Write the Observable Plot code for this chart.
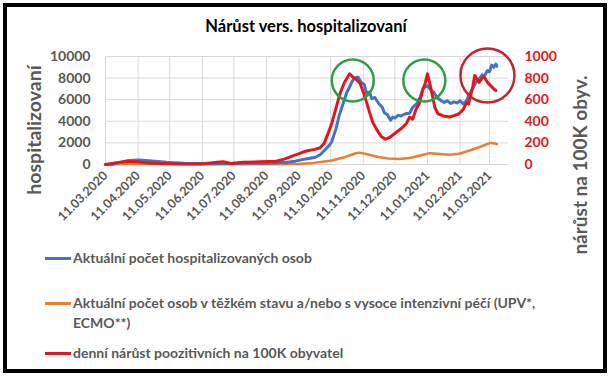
<!DOCTYPE html>
<html><head><meta charset="utf-8">
<script src="https://cdn.jsdelivr.net/npm/d3@7"></script>
<script src="https://cdn.jsdelivr.net/npm/@observablehq/plot@0.6"></script>
<style>
body{margin:0;background:#fff;}
#wrap{position:relative;width:612px;height:377px;overflow:hidden;font-family:Lato,"Open Sans",sans-serif;background:#fff;}
#frame{position:absolute;left:3px;top:3px;width:604px;height:370px;border:4px solid #000;box-sizing:border-box;pointer-events:none;}
#title{position:absolute;left:0;width:612px;top:16px;text-align:center;font-weight:bold;font-size:16.5px;color:#000;}
#chart{position:absolute;left:0;top:0;}
.ytitle{position:absolute;font-weight:bold;color:#595959;white-space:nowrap;transform:translate(-50%,-50%) rotate(-90deg);}
.leg{position:absolute;left:45px;font-weight:bold;font-size:14px;color:#595959;line-height:20px;}
.leg span.sw{display:inline-block;width:26px;height:3px;vertical-align:middle;margin-right:2px;position:relative;top:-1px;}
</style></head>
<body>
<div id="wrap">
  <div id="chart"></div>
  <div id="title"></div>
  <div class="ytitle" id="ylt" style="left:33px;top:130px;font-size:19.5px;"></div>
  <div class="ytitle" id="yrt" style="left:579px;top:165px;font-size:19px;"></div>
  <div id="legend"></div>
  <div id="frame"></div>
</div>
<script>
const titleText = "Nárůst vers. hospitalizovaní";
const leftTitle = "hospitalizovaní";
const rightTitle = "nárůst na 100K obyv.";
const seriesNames = [
  "Aktuální počet hospitalizovaných osob",
  "Aktuální počet osob v těžkém stavu a/nebo s vysoce intenzivní péčí (UPV*,<br>ECMO**)",
  "denní nárůst poozitivních na 100K obyvatel"
];
const seriesColors = ["#4472c4", "#ed7d31", "#e3171b"];
const tickLabels = ["11.03.2020","11.04.2020","11.05.2020","11.06.2020","11.07.2020","11.08.2020","11.09.2020","11.10.2020","11.11.2020","11.12.2020","11.01.2021","11.02.2021","11.03.2021"];
const leftTicks = [0,2000,4000,6000,8000,10000];
const rightTicks = [0,200,400,600,800,1000];
const xDomain = ["2020-03-11","2021-03-29"];

// Aktuální počet hospitalizovaných osob (left axis)
const hospitalized = [
["2020-03-11",0],["2020-03-18",30],["2020-03-25",200],["2020-04-01",350],["2020-04-07",400],["2020-04-12",420],
["2020-04-18",370],["2020-04-24",330],["2020-04-30",280],["2020-05-08",200],["2020-05-15",170],["2020-05-25",120],
["2020-06-05",90],["2020-06-20",80],["2020-07-05",100],["2020-07-20",120],["2020-08-05",110],["2020-08-20",130],
["2020-08-31",200],["2020-09-07",300],["2020-09-14",450],["2020-09-20",550],["2020-09-26",650],["2020-10-01",900],
["2020-10-05",1300],["2020-10-09",1700],["2020-10-12",2100],["2020-10-16",3300],["2020-10-19",4500],["2020-10-23",5700],
["2020-10-26",6600],["2020-10-29",7200],["2020-11-01",7800],["2020-11-03",8000],["2020-11-06",8100],["2020-11-09",7600],
["2020-11-12",7400],["2020-11-14",6600],["2020-11-17",6700],["2020-11-19",6100],["2020-11-22",6200],["2020-11-26",5600],
["2020-11-29",5300],["2020-12-01",4800],["2020-12-04",4600],["2020-12-07",4100],["2020-12-09",4400],["2020-12-11",4300],
["2020-12-14",4550],["2020-12-17",4500],["2020-12-21",4700],["2020-12-25",4750],["2020-12-28",5300],["2021-01-01",5650],
["2021-01-04",6200],["2021-01-07",7100],["2021-01-11",7300],["2021-01-14",6900],["2021-01-17",6700],["2021-01-20",6200],
["2021-01-24",5900],["2021-01-27",5750],["2021-01-30",5900],["2021-02-02",5650],["2021-02-05",5800],["2021-02-08",5700],
["2021-02-11",5900],["2021-02-14",5600],["2021-02-17",5900],["2021-02-20",6550],["2021-02-23",7000],["2021-02-26",7600],
["2021-03-01",7900],["2021-03-04",8300],["2021-03-06",8200],["2021-03-09",8700],["2021-03-11",8600],["2021-03-13",9200],
["2021-03-15",9000],["2021-03-17",9300],["2021-03-18",9100]
];
// Aktuální počet osob v těžkém stavu (left axis)
const severe = [
["2020-03-11",0],["2020-04-10",60],["2020-05-10",40],["2020-06-10",20],["2020-07-10",20],["2020-08-10",25],
["2020-09-11",40],["2020-09-25",150],["2020-10-12",370],["2020-10-25",700],["2020-11-03",1020],["2020-11-07",1100],
["2020-11-15",950],["2020-11-25",700],["2020-12-05",550],["2020-12-15",520],["2020-12-25",600],["2021-01-05",850],
["2021-01-13",1050],["2021-01-20",1000],["2021-02-01",900],["2021-02-10",1000],["2021-02-20",1300],["2021-03-01",1600],
["2021-03-09",1900],["2021-03-12",2000],["2021-03-16",1950],["2021-03-18",1880]
];
// denní nárůst pozitivních na 100K obyvatel (right axis)
const growth = [
["2020-03-11",0],["2020-03-20",15],["2020-04-01",30],["2020-04-10",25],["2020-04-20",15],["2020-05-01",10],
["2020-05-20",5],["2020-06-10",5],["2020-06-25",20],["2020-07-01",25],["2020-07-08",10],["2020-07-20",20],
["2020-08-05",25],["2020-08-20",30],["2020-08-28",50],["2020-09-05",80],["2020-09-11",100],["2020-09-16",120],
["2020-09-20",130],["2020-09-26",140],["2020-10-01",155],["2020-10-05",200],["2020-10-09",300],["2020-10-12",380],
["2020-10-16",520],["2020-10-20",660],["2020-10-24",760],["2020-10-29",840],["2020-11-01",810],["2020-11-04",790],
["2020-11-08",750],["2020-11-11",670],["2020-11-14",580],["2020-11-17",480],["2020-11-20",390],["2020-11-24",320],
["2020-11-28",260],["2020-12-02",235],["2020-12-06",250],["2020-12-10",280],["2020-12-14",310],["2020-12-18",340],
["2020-12-22",380],["2020-12-25",440],["2020-12-28",420],["2020-12-31",510],["2021-01-03",560],["2021-01-06",670],
["2021-01-09",760],["2021-01-11",840],["2021-01-13",760],["2021-01-15",670],["2021-01-18",530],["2021-01-21",470],
["2021-01-26",450],["2021-02-01",440],["2021-02-06",455],["2021-02-10",470],["2021-02-14",510],["2021-02-17",570],
["2021-02-19",560],["2021-02-21",640],["2021-02-23",720],["2021-02-25",825],["2021-02-27",790],["2021-03-01",760],
["2021-03-04",800],["2021-03-06",810],["2021-03-09",760],["2021-03-12",730],["2021-03-15",700],["2021-03-17",685]
];
// Highlight circles (date, value on left axis, radius, colour)
const circleDates = ["2020-11-01","2021-01-08","2021-03-09"];
const circleValues = [7780, 7780, 8240];
const circleRadii = [21, 21, 27];
const circleColors = ["#2e9e44","#2e9e44","#c0272d"];

const parse = d3.utcParse("%Y-%m-%d");
const parseTick = d3.utcParse("%d.%m.%Y");
const fmtTick = d3.utcFormat("%d.%m.%Y");
const tickDates = tickLabels.map(parseTick);
const toRows = arr => arr.map(([d, v]) => ({date: parse(d), value: v}));
const circles = circleDates.map((d, i) => ({date: parse(d), value: circleValues[i], r: circleRadii[i], c: circleColors[i]}));

document.getElementById("title").textContent = titleText;
document.getElementById("ylt").textContent = leftTitle;
document.getElementById("yrt").textContent = rightTitle;

const legendY = [248, 293, 343];
document.getElementById("legend").innerHTML = seriesNames.map((n, i) =>
  `<div class="leg" style="top:${legendY[i]}px"><span class="sw" style="background:${seriesColors[i]}"></span>${n.replace("<br>", "<br><span style='margin-left:28px'></span>")}</div>`
).join("");

const chart = Plot.plot({
  width: 612, height: 240,
  marginLeft: 105, marginRight: 104, marginTop: 56, marginBottom: 76,
  style: {fontFamily: "Lato, 'Open Sans', sans-serif", background: "transparent"},
  x: {type: "utc", domain: xDomain.map(parse)},
  y: {domain: [0, 10000]},
  r: {type: "identity"},
  marks: [
    Plot.gridY({ticks: leftTicks, stroke: "#d9d9d9", strokeOpacity: 1}),
    Plot.gridX({ticks: tickDates, stroke: "#d9d9d9", strokeOpacity: 1}),
    Plot.axisY({anchor: "left", ticks: leftTicks, tickFormat: (d) => String(d), tickSize: 0, tickPadding: 15, fill: "#595959", fontSize: 14, fontWeight: "bold", label: null}),
    Plot.axisY({anchor: "right", ticks: leftTicks, tickFormat: (d) => String(d / 10), tickSize: 0, tickPadding: 16, fill: seriesColors[2], fontSize: 14, fontWeight: "bold", label: null}),
    Plot.axisX({ticks: tickDates, tickFormat: fmtTick, tickRotate: -45, tickSize: 0, tickPadding: 9, fill: "#595959", fontSize: 12.5, fontWeight: "bold", label: null}),
    Plot.line(toRows(severe), {x: "date", y: "value", stroke: seriesColors[1], strokeWidth: 2.5}),
    Plot.line(toRows(hospitalized), {x: "date", y: "value", stroke: seriesColors[0], strokeWidth: 3}),
    Plot.line(toRows(growth), {x: "date", y: (d) => d.value * 10, stroke: seriesColors[2], strokeWidth: 3}),
    Plot.dot(circles, {x: "date", y: "value", r: "r", stroke: "c", strokeWidth: 2.5, fill: "none"})
  ]
});
document.getElementById("chart").appendChild(chart);
</script>
</body></html>
